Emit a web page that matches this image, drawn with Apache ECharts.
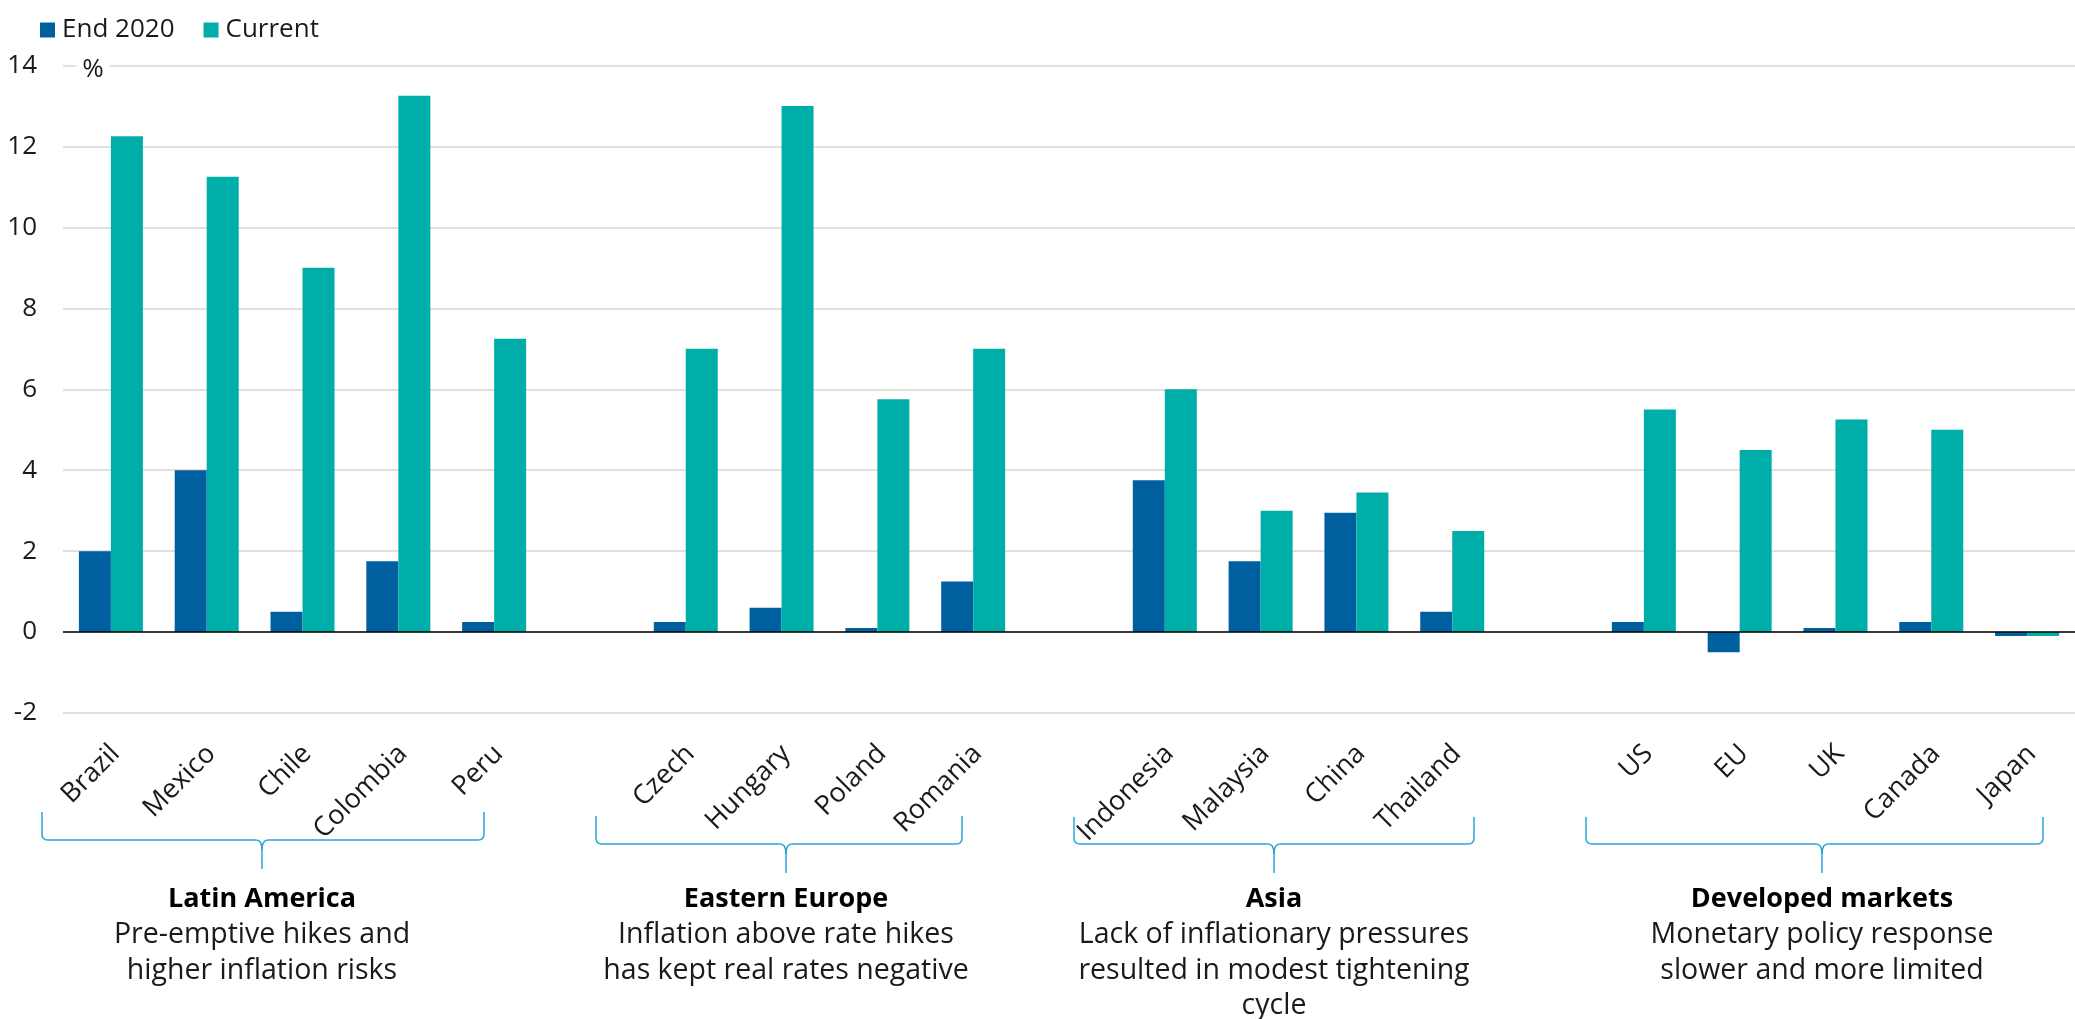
<!DOCTYPE html>
<html>
<head>
<meta charset="utf-8">
<script src="https://cdn.jsdelivr.net/npm/echarts@6/dist/echarts.min.js"></script>
<style>
html,body{margin:0;padding:0;background:#fff;}
#c{width:2075px;height:1019px;}
</style>
</head>
<body>
<div id="c"></div>
<script>
// ---- data ----
var categories = ['Brazil','Mexico','Chile','Colombia','Peru','','Czech','Hungary','Poland','Romania','','Indonesia','Malaysia','China','Thailand','','US','EU','UK','Canada','Japan'];
var end2020 = [2.0,4.0,0.5,1.75,0.25,'-',0.25,0.6,0.1,1.25,'-',3.75,1.75,2.95,0.5,'-',0.25,-0.5,0.1,0.25,-0.1];
var current = [12.25,11.25,9.0,13.25,7.25,'-',7.0,13.0,5.75,7.0,'-',6.0,3.0,3.45,2.5,'-',5.5,4.5,5.25,5.0,-0.1];
var seriesNames = ['End 2020','Current'];
var yTicks = {min:-2, max:14, interval:2};
var unitLabel = '%';
var groupTitles = ['Latin America','Eastern Europe','Asia','Developed markets'];
var groupLines = [
  ['Pre-emptive hikes and','higher inflation risks'],
  ['Inflation above rate hikes','has kept real rates negative'],
  ['Lack of inflationary pressures','resulted in modest tightening','cycle'],
  ['Monetary policy response','slower and more limited']
];

// ---- layout / style ----
var FONT = '"Open Sans", "Noto Sans", sans-serif';
var TXT = '#1a1a1a';
var BRACE = '#2ba3dc';
var braces = [ // left, right, center, top, horiz, tip (pixels)
  [42, 484, 262, 812, 840, 869],
  [596, 962, 786, 816, 844, 873],
  [1074, 1474, 1274, 817, 844, 873],
  [1586, 2043, 1822, 817, 844, 873]
];
var graphics = [];
function seg(x1,y1,x2,y2){ return {type:'line', shape:{x1:x1,y1:y1,x2:x2,y2:y2}, style:{stroke:BRACE, lineWidth:1.5}, silent:true}; }
function curve(x1,y1,cx,cy,x2,y2){ return {type:'bezierCurve', shape:{x1:x1,y1:y1,cpx1:cx,cpy1:cy,x2:x2,y2:y2}, style:{stroke:BRACE, lineWidth:1.5, fill:null}, silent:true}; }
braces.forEach(function(b,i){
  var l=b[0], r=b[1], c=b[2], t=b[3], h=b[4], p=b[5], k=6;
  graphics.push(seg(l,t,l,h-k));
  graphics.push(curve(l,h-k,l,h,l+k,h));
  graphics.push(seg(l+k,h,c-k,h));
  graphics.push(curve(c-k,h,c,h,c,h+10));
  graphics.push(curve(c+k,h,c,h,c,h+10));
  graphics.push(seg(c,h+10,c,p));
  graphics.push(seg(c+k,h,r-k,h));
  graphics.push(curve(r-k,h,r,h,r,h-k));
  graphics.push(seg(r,h-k,r,t));
  graphics.push({type:'text', x:c, y:899, style:{text:groupTitles[i], font:'bold 27px '+FONT, fill:'#000', align:'center', verticalAlign:'middle'}, silent:true});
  groupLines[i].forEach(function(line,j){
    graphics.push({type:'text', x:c, y:935+j*35.5, style:{text:line, font:'28.5px '+FONT, fill:TXT, align:'center', verticalAlign:'middle'}, silent:true});
  });
});
graphics.push({type:'text', x:93, y:70, z:100, style:{text:unitLabel, font:'26px '+FONT, fill:TXT, align:'center', verticalAlign:'middle', backgroundColor:'#fff', padding:[2,6]}, silent:true});

var chart = echarts.init(document.getElementById('c'), null, {renderer:'canvas'});
chart.setOption({
  animation:false,
  backgroundColor:'#fff',
  textStyle:{fontFamily:FONT},
  legend:{
    data:seriesNames, left:35, top:12, icon:'rect', itemWidth:15, itemHeight:15, itemGap:29,
    textStyle:{fontSize:26, color:TXT, fontFamily:FONT, padding:[0,0,0,2]}
  },
  grid:{left:63, top:65.5, width:2025, height:647.5, containLabel:false},
  xAxis:{
    type:'category', data:categories,
    axisLine:{show:false, onZero:false}, axisTick:{show:false},
    axisLabel:{interval:0, rotate:45, fontSize:27, color:TXT, fontFamily:FONT, margin:22, align:'right', verticalAlign:'top', padding:[0,7,0,0]}
  },
  yAxis:{
    type:'value', min:yTicks.min, max:yTicks.max, interval:yTicks.interval,
    axisLine:{show:false}, axisTick:{show:false},
    axisLabel:{fontSize:26, color:TXT, fontFamily:FONT, margin:26},
    splitLine:{lineStyle:{color:'#d9d5d0', width:1.5}}
  },
  series:[
    {name:seriesNames[0], type:'bar', data:end2020, barWidth:32, barGap:'0%', itemStyle:{color:'#005f9e'},
     markLine:{silent:true, symbol:'none', label:{show:false}, lineStyle:{color:'#000', width:1.5, type:'solid'}, data:[{yAxis:0}]}},
    {name:seriesNames[1], type:'bar', data:current, barWidth:32, barGap:'0%', itemStyle:{color:'#00aea9'}}
  ],
  graphic:graphics
});
</script>
</body>
</html>
